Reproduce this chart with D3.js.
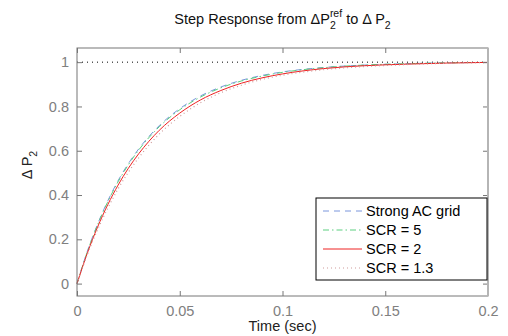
<!DOCTYPE html>
<html>
<head>
<meta charset="utf-8">
<script src="https://cdn.jsdelivr.net/npm/d3@7"></script>
<style>
  body { margin: 0; background: #fff; }
  svg { font-family: "Liberation Sans", Arial, Helvetica, sans-serif; }
</style>
</head>
<body>
<div id="chart"></div>
<script>
// time samples (sec)
const time = [0, 0.005, 0.01, 0.015, 0.02, 0.025, 0.03, 0.04, 0.05, 0.06, 0.07, 0.08, 0.09, 0.1, 0.12, 0.14, 0.16, 0.18, 0.2];

// step responses
const strongAC = [0, 0.145, 0.268, 0.374, 0.465, 0.542, 0.608, 0.713, 0.790, 0.847, 0.888, 0.918, 0.940, 0.956, 0.976, 0.987, 0.993, 0.997, 0.999];
const scr5     = [0, 0.143, 0.265, 0.370, 0.460, 0.537, 0.603, 0.708, 0.785, 0.842, 0.884, 0.915, 0.937, 0.954, 0.975, 0.987, 0.993, 0.997, 0.999];
const scr2     = [0, 0.137, 0.255, 0.357, 0.445, 0.521, 0.586, 0.692, 0.770, 0.829, 0.872, 0.905, 0.929, 0.947, 0.971, 0.984, 0.991, 0.996, 0.999];
const scr13    = [0, 0.130, 0.243, 0.341, 0.428, 0.503, 0.568, 0.675, 0.755, 0.816, 0.862, 0.896, 0.922, 0.941, 0.966, 0.980, 0.989, 0.995, 0.998];

const seriesNames = ["Strong AC grid", "SCR = 5", "SCR = 2", "SCR = 1.3"];
const xTicks = [0, 0.05, 0.1, 0.15, 0.2];
const yTicks = [0, 0.2, 0.4, 0.6, 0.8, 1];

const W = 508, H = 336;
const m = { left: 77, right: 20, top: 48, bottom: 40 };
const fs = 14.5;

const svg = d3.select("#chart").append("svg").attr("width", W).attr("height", H);

const x = d3.scaleLinear().domain([0, 0.2]).range([m.left, W - m.right]);
const y = d3.scaleLinear().domain([-0.056, 1.064]).range([H - m.bottom, m.top]);

const styles = [
  { color: "#7a96dc", dash: "6,5", width: 1 },
  { color: "#5ccf80", dash: "6,3,1.5,3", width: 1 },
  { color: "#ee2222", dash: null, width: 1 },
  { color: "#cf9c9c", dash: "1,3", width: 1.2 }
];
const allSeries = [strongAC, scr5, scr2, scr13];

// final value reference line
svg.append("line")
  .attr("x1", x(0)).attr("x2", x(0.2))
  .attr("y1", y(1)).attr("y2", y(1))
  .attr("stroke", "#000").attr("stroke-dasharray", "1,4").attr("stroke-width", 1);

const line = d3.line().x((d, i) => x(time[i])).y(d => y(d)).curve(d3.curveMonotoneX);

allSeries.forEach((s, k) => {
  svg.append("path")
    .datum(s)
    .attr("d", line)
    .attr("fill", "none")
    .attr("stroke", styles[k].color)
    .attr("stroke-width", styles[k].width)
    .attr("stroke-dasharray", styles[k].dash);
});

// axes box with inward ticks
const axisColor = "#777";
const tickColor = "#808080";
const gx = svg.append("g").attr("transform", `translate(0,${y.range()[0]})`)
  .call(d3.axisBottom(x).tickValues(xTicks).tickSize(-5).tickPadding(10).tickFormat(d => d3.format("")(d)));
const gxTop = svg.append("g").attr("transform", `translate(0,${m.top})`)
  .call(d3.axisTop(x).tickValues(xTicks).tickSize(-5).tickFormat(""));
const gy = svg.append("g").attr("transform", `translate(${m.left},0)`)
  .call(d3.axisLeft(y).tickValues(yTicks).tickSize(-5).tickPadding(8).tickFormat(d => d3.format("")(d)));
const gyR = svg.append("g").attr("transform", `translate(${W - m.right},0)`)
  .call(d3.axisRight(y).tickValues(yTicks).tickSize(-5).tickFormat(""));

[gx, gxTop, gy, gyR].forEach(g => {
  g.select(".domain").remove();
  g.selectAll(".tick line").attr("stroke", axisColor);
  g.selectAll(".tick text").attr("fill", tickColor).attr("font-size", fs);
});

svg.append("rect")
  .attr("x", m.left).attr("y", m.top)
  .attr("width", x(0.2) - m.left).attr("height", y.range()[0] - m.top)
  .attr("fill", "none").attr("stroke", axisColor).attr("stroke-width", 1);
svg.append("line")
  .attr("x1", x(0.2)).attr("x2", x(0.2)).attr("y1", m.top).attr("y2", y.range()[0])
  .attr("stroke", "#b5b5b5").attr("stroke-width", 2);

// title, built piece by piece so sub/superscripts don't collide
const tg = svg.append("g");
const parts = [
  { t: "Step Response from ΔP", size: fs, dy: 0 },
  { t: "ref", size: 10.5, dy: -7, stack: true },
  { t: "2", size: 10.5, dy: 5 },
  { t: "to Δ P", size: fs, dy: 0, gap: 4 },
  { t: "2", size: 10.5, dy: 5 }
];
let cx = 0, prevW = 0;
const baseY = 24;
parts.forEach((p, i) => {
  if (p.gap) cx += p.gap;
  const el = tg.append("text").attr("x", cx).attr("y", baseY + p.dy)
    .attr("font-size", p.size).attr("fill", "#111").text(p.t);
  const w = el.node().getComputedTextLength();
  if (p.stack) { prevW = w; }
  else if (i > 0 && parts[i - 1].stack) { cx += Math.max(w, prevW); }
  else { cx += w; }
  if (p.stack) el.attr("data-stack", 1);
});
// stacked sub under the superscript: both start at the same x
tg.selectAll("text").each(function (d, i) {
  if (i === 2) d3.select(this).attr("x", +tg.select("text[data-stack]").attr("x"));
});
tg.attr("transform", `translate(${(x(0) + x(0.2)) / 2 - cx / 2},0)`);

// axis labels
svg.append("text")
  .attr("x", (x(0) + x(0.2)) / 2).attr("y", 331)
  .attr("text-anchor", "middle").attr("font-size", fs).attr("fill", "#222")
  .text("Time (sec)");

const yl = svg.append("text")
  .attr("transform", `translate(32,165) rotate(-90)`)
  .attr("text-anchor", "middle").attr("font-size", fs).attr("fill", "#222");
yl.append("tspan").text("Δ P");
yl.append("tspan").attr("font-size", 10.5).attr("dy", 5).text("2");

// legend
const lg = svg.append("g").attr("transform", "translate(316,198)");
lg.append("rect").attr("width", 171).attr("height", 82)
  .attr("fill", "#fff").attr("stroke", "#000").attr("stroke-width", 1);
seriesNames.forEach((name, k) => {
  const ry = 13 + k * 19;
  lg.append("line").attr("x1", 7).attr("x2", 46).attr("y1", ry).attr("y2", ry)
    .attr("stroke", styles[k].color).attr("stroke-width", styles[k].width)
    .attr("stroke-dasharray", styles[k].dash);
  lg.append("text").attr("x", 50).attr("y", ry + 5)
    .attr("font-size", fs).attr("fill", "#000").text(name);
});
</script>
</body>
</html>
